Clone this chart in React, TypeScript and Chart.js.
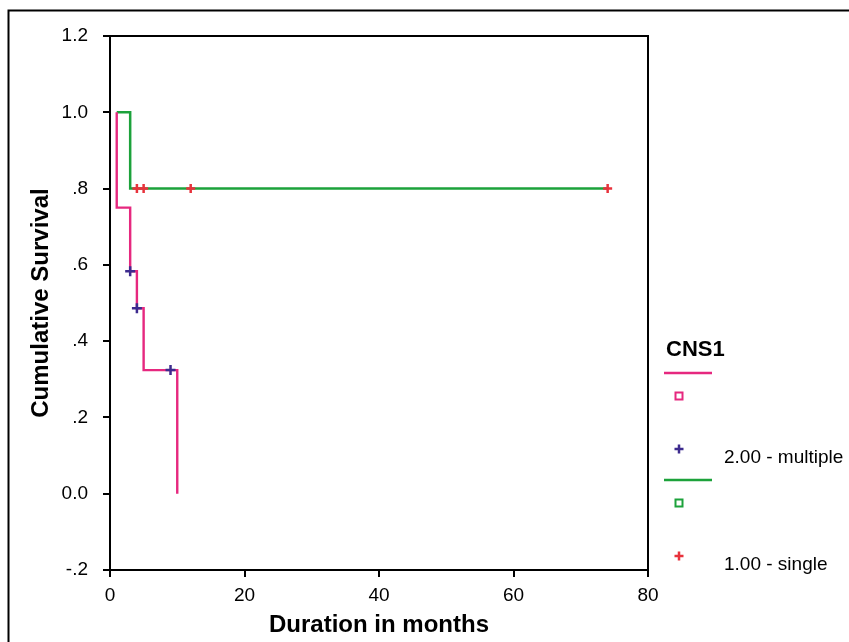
import React, { useEffect, useRef } from "react";
import { Chart, registerables } from "chart.js";

Chart.register(...registerables);

const FONT = '"Liberation Sans", Arial, Helvetica, sans-serif';

// Kaplan-Meier steps, group 2.00 - multiple
const multipleTimes = [1, 1, 3, 4, 5, 10];
const multipleSurvival = [1.0, 0.75, 0.5833, 0.4861, 0.3241, 0];
// censored cases, group 2.00 - multiple
const multipleCensorTimes = [3, 4, 9];
const multipleCensorSurvival = [0.5833, 0.4861, 0.3241];

// Kaplan-Meier steps, group 1.00 - single
const singleTimes = [1, 3, 74];
const singleSurvival = [1.0, 0.8, 0.8];
// censored cases, group 1.00 - single
const singleCensorTimes = [4, 5, 12, 74];
const singleCensorSurvival = [0.8, 0.8, 0.8, 0.8];

const xTickValues = [0, 20, 40, 60, 80];
const yTickValues = [-0.2, 0, 0.2, 0.4, 0.6, 0.8, 1.0, 1.2];
const yTickLabels = ["-.2", "0.0", ".2", ".4", ".6", ".8", "1.0", "1.2"];

const legendTitle = "CNS1";
const legendLabels = ["2.00 - multiple", "1.00 - single"];
const xTitle = "Duration in months";
const yTitle = "Cumulative Survival";

const PINK = "#E6287F";
const GREEN = "#1CA23B";
const PURPLE = "#3D2B8E";
const RED = "#E8323C";

const zip = (xs: number[], ys: number[]) => xs.map((x, i) => ({ x, y: ys[i] }));

export default function App() {
  const ref = useRef<HTMLCanvasElement | null>(null);

  useEffect(() => {
    document.body.style.margin = "0";
    const canvas = ref.current;
    if (!canvas) return;

    const framePlugin = {
      id: "framePlugin",
      afterDraw(chart: any) {
        const { ctx, chartArea } = chart;
        const { left, right, top, bottom } = chartArea;
        ctx.save();
        ctx.strokeStyle = "#000";
        ctx.lineWidth = 2;
        // plot box top + right
        ctx.beginPath();
        ctx.moveTo(left - 1, top);
        ctx.lineTo(right, top);
        ctx.lineTo(right, bottom + 7);
        ctx.stroke();
        // outer frame (left + top)
        ctx.beginPath();
        ctx.moveTo(8.5, chart.height);
        ctx.lineTo(8.5, 10.5);
        ctx.lineTo(chart.width, 10.5);
        ctx.stroke();

        // legend
        const lx = 664;
        const lineEnd = 712;
        const mx = 679;
        const tx = 724;
        ctx.fillStyle = "#000";
        ctx.textBaseline = "middle";
        ctx.textAlign = "left";
        ctx.font = `bold 22px ${FONT}`;
        ctx.fillText(legendTitle, 666, 350);

        const groups = [
          { line: PINK, cross: PURPLE, y0: 373, label: legendLabels[0] },
          { line: GREEN, cross: RED, y0: 480, label: legendLabels[1] },
        ];
        ctx.font = `19px ${FONT}`;
        for (const g of groups) {
          ctx.strokeStyle = g.line;
          ctx.lineWidth = 2.5;
          ctx.beginPath();
          ctx.moveTo(lx, g.y0);
          ctx.lineTo(lineEnd, g.y0);
          ctx.stroke();
          // small open square
          ctx.lineWidth = 2;
          ctx.strokeRect(mx - 3.5, g.y0 + 23 - 3.5, 7, 7);
          // cross
          ctx.strokeStyle = g.cross;
          ctx.lineWidth = 2.5;
          const cy = g.y0 + 76;
          ctx.beginPath();
          ctx.moveTo(mx - 4.5, cy);
          ctx.lineTo(mx + 4.5, cy);
          ctx.moveTo(mx, cy - 4.5);
          ctx.lineTo(mx, cy + 4.5);
          ctx.stroke();
          ctx.fillStyle = "#000";
          ctx.fillText(g.label, tx, g.y0 + 85);
        }
        ctx.restore();
      },
    };

    const chart = new Chart(canvas, {
      type: "line",
      data: {
        datasets: [
          {
            label: "single censored",
            data: zip(singleCensorTimes, singleCensorSurvival),
            showLine: false,
            pointStyle: "cross",
            pointRadius: 4.5,
            pointBorderWidth: 2.5,
            borderColor: RED,
            backgroundColor: RED,
          },
          {
            label: "multiple censored",
            data: zip(multipleCensorTimes, multipleCensorSurvival),
            showLine: false,
            pointStyle: "cross",
            pointRadius: 5,
            pointBorderWidth: 2.5,
            borderColor: PURPLE,
            backgroundColor: PURPLE,
          },
          {
            label: "2.00 - multiple",
            data: zip(multipleTimes, multipleSurvival),
            stepped: true,
            borderColor: PINK,
            borderWidth: 2.4,
            pointRadius: 0,
            fill: false,
          },
          {
            label: "1.00 - single",
            data: zip(singleTimes, singleSurvival),
            stepped: true,
            borderColor: GREEN,
            borderWidth: 2.5,
            pointRadius: 0,
            fill: false,
          },
        ],
      },
      options: {
        animation: false,
        responsive: false,
        devicePixelRatio: 1,
        layout: { padding: { left: 0, top: 36, right: 201, bottom: 0 } },
        plugins: {
          legend: { display: false },
          tooltip: { enabled: false },
        },
        scales: {
          x: {
            type: "linear",
            min: 0,
            max: 80,
            afterFit: (s: any) => {
              s.height = 72;
            },
            afterBuildTicks: (s: any) => {
              s.ticks = xTickValues.map((v) => ({ value: v }));
            },
            ticks: {
              color: "#000",
              font: { family: FONT, size: 19 },
              padding: 7,
              maxRotation: 0,
              autoSkip: false,
            },
            grid: {
              drawOnChartArea: false,
              drawTicks: true,
              tickLength: 7,
              color: "#000",
              lineWidth: 2,
            },
            border: { display: true, color: "#000", width: 2 },
            title: {
              display: true,
              text: xTitle,
              color: "#000",
              font: { family: FONT, size: 24, weight: "bold", lineHeight: 1.2 },
              padding: { top: 0, bottom: 2 },
            },
          },
          y: {
            type: "linear",
            min: -0.2,
            max: 1.2,
            afterFit: (s: any) => {
              s.width = 110;
            },
            afterBuildTicks: (s: any) => {
              s.ticks = yTickValues.map((v) => ({ value: v }));
            },
            ticks: {
              color: "#000",
              font: { family: FONT, size: 19 },
              padding: 15,
              autoSkip: false,
              callback: (value: any) => {
                const i = yTickValues.findIndex((v) => Math.abs(v - Number(value)) < 1e-6);
                return i >= 0 ? yTickLabels[i] : "";
              },
            },
            grid: {
              drawOnChartArea: false,
              drawTicks: true,
              tickLength: 7,
              color: "#000",
              lineWidth: 2,
            },
            border: { display: true, color: "#000", width: 2 },
            title: {
              display: true,
              text: yTitle,
              color: "#000",
              font: { family: FONT, size: 24, weight: "bold", lineHeight: 1.2 },
              padding: { top: 27, bottom: 0 },
            },
          },
        },
      } as any,
      plugins: [framePlugin],
    });

    return () => chart.destroy();
  }, []);

  return (
    <canvas
      ref={ref}
      width={849}
      height={642}
      style={{ display: "block", width: 849, height: 642 }}
    />
  );
}
